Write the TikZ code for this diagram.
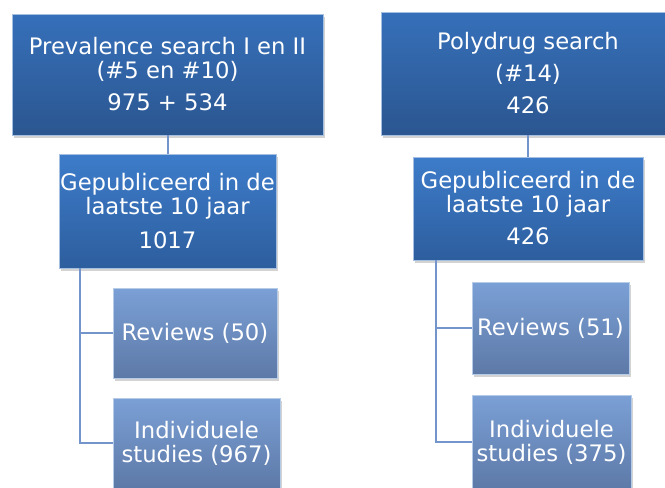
\documentclass[tikz,border=0pt]{standalone}
\usepackage{fontspec}
\setmainfont{DejaVu Sans}
\usepackage{xcolor}
\usepackage{tikz}
\usetikzlibrary{
    calc,
    shadows
}
\definecolor{topblueA}{HTML}{3670BA}
\definecolor{topblueB}{HTML}{2B5690}
\definecolor{midblueA}{HTML}{3D7CCA}
\definecolor{midblueB}{HTML}{2D5E9E}
\definecolor{leafblueA}{HTML}{7BA0D6}
\definecolor{leafblueB}{HTML}{5D79A7}
\definecolor{linkblue}{HTML}{7395CC}

\begin{document}
\begin{tikzpicture}[
            x=1pt, y=-1pt,
            box/.style={rectangle, draw=white!55!topblueA, line width=0.6pt, text=white, align=center,
                font=\fontsize{22.7}{24}\selectfont, inner sep=0pt,
                drop shadow={opacity=0.35, shadow xshift=1.5pt, shadow yshift=-3pt}},
            topbox/.style={box, top color=topblueA, bottom color=topblueB},
            midbox/.style={box, top color=midblueA, bottom color=midblueB},
            leafbox/.style={box, top color=leafblueA, bottom color=leafblueB, draw=white!45!leafblueA},
            link/.style={draw=linkblue, line width=2pt}
        ]
        \clip (0,0) rectangle (665,488);
        % left column
        \node[topbox, minimum width=311pt, minimum height=121pt] (ltop) at (167.5,74.5)
            {Prevalence search I en II\\(\#5 en \#10)\\[8pt]975 + 534};
        \node[midbox, minimum width=217pt, minimum height=114pt] (lmid) at (167.5,211)
            {Gepubliceerd in de\\laatste 10 jaar\\[10pt]1017};
        \node[leafbox, minimum width=164pt, minimum height=90pt] (lrev) at (195,333) {Reviews (50)};
        \node[leafbox, minimum width=167pt, minimum height=90pt] (lind) at (196.5,443)
            {Individuele\\studies (967)};
        % right column
        \node[topbox, minimum width=294pt, minimum height=123pt] (rtop) at (528,73.5)
            {Polydrug search\\[8pt](\#14)\\[8pt]426};
        \node[midbox, minimum width=230pt, minimum height=103pt] (rmid) at (528,208.5)
            {Gepubliceerd in de\\laatste 10 jaar\\[8pt]426};
        \node[leafbox, minimum width=157pt, minimum height=92pt] (rrev) at (550.5,328) {Reviews (51)};
        \node[leafbox, minimum width=159pt, minimum height=94pt] (rind) at (551.5,442)
            {Individuele\\studies (375)};
        % connectors
        \draw[link] (ltop) -- (lmid);
        \draw[link] (rtop) -- (rmid);
        \draw[link] ([xshift=21pt]lmid.south west) |- (lrev.west);
        \draw[link] ([xshift=21pt]lmid.south west) |- (lind.west);
        \draw[link] ([xshift=23pt]rmid.south west) |- (rrev.west);
        \draw[link] ([xshift=23pt]rmid.south west) |- (rind.west);
    \end{tikzpicture}
\end{document}
